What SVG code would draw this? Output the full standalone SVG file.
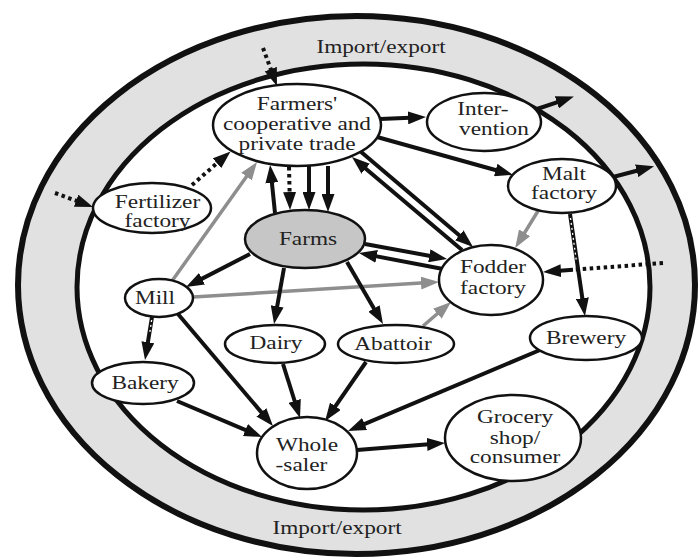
<svg xmlns="http://www.w3.org/2000/svg" width="698" height="558" viewBox="0 0 698 558">
<defs>
<style>
.node ellipse{fill:#fff;stroke:#111;stroke-width:2.5}
.node text,.lbl{font-family:"Liberation Serif","Times New Roman",serif;font-size:18px;fill:#222;text-anchor:middle}
.c{fill:none;stroke:#111;stroke-width:4;marker-end:url(#ab)}
.g{fill:none;stroke:#8e8e8e;stroke-width:3.5;marker-end:url(#ag)}
.d{fill:none;stroke:#111;stroke-width:4;stroke-dasharray:3.5 3.5;marker-end:url(#ab)}
.dn{fill:none;stroke:#111;stroke-width:4;stroke-dasharray:3.5 3.5}
.core{fill:none;stroke:#fff;stroke-width:1.3;stroke-dasharray:2 3}
</style>
<marker id="ab" viewBox="0 0 18 13" refX="8" refY="6.5" markerWidth="18" markerHeight="13" markerUnits="userSpaceOnUse" orient="auto"><path d="M0,0 L18,6.5 L0,13 z" fill="#111"/></marker>
<marker id="ag" viewBox="0 0 18 13" refX="8" refY="6.5" markerWidth="18" markerHeight="13" markerUnits="userSpaceOnUse" orient="auto"><path d="M0,0 L18,6.5 L0,13 z" fill="#8e8e8e"/></marker>
</defs>
<rect width="698" height="558" fill="#fff"/>
<g id="ring">
<ellipse cx="356.5" cy="285" rx="338.5" ry="269" fill="#e1e1e1" stroke="#111" stroke-width="6"/>
<ellipse cx="363.5" cy="287" rx="286.5" ry="223" fill="#fff" stroke="#111" stroke-width="5"/>
<text class="lbl" transform="matrix(1.294 0 0 1 381 0)" x="0" y="53">Import/export</text>
<text class="lbl" transform="matrix(1.294 0 0 1 337 0)" x="0" y="534">Import/export</text>
</g>
<g id="connectors">
<path class="d" d="M263,48 L273.5,76.6"/>
<path class="d" d="M192,185 L223,158"/>
<path class="d" d="M55,193 L83.6,203.5"/>
<path class="dn" d="M663,263 L573,269.8"/>
<path class="c" d="M573,269.8 L553,271.3"/>
<path class="g" d="M172,281 L251.2,170.1"/>
<path class="g" d="M193,297 L429,282.6"/>
<path class="g" d="M538,211 L520.4,239.6"/>
<path class="g" d="M423,326 L443.4,308.5"/>
<path class="c" d="M275,213 L271.1,174.9"/>
<path class="d" d="M289,167 L289.8,200"/>
<path class="c" d="M309,166 L309,200"/>
<path class="c" d="M328,166 L328,202"/>
<path class="c" d="M380,119 L416,117.5"/>
<path class="c" d="M537,109 L564.4,99.8"/>
<path class="c" d="M377,137 L503.4,172.2"/>
<path class="c" d="M613,177 L644.4,168.8"/>
<path class="c" d="M462,250 L359.6,163.5"/>
<path class="c" d="M360,151 L465.4,240.5"/>
<path class="c" d="M365,244 L437.2,257.2"/>
<path class="c" d="M443,269 L368.8,254.9"/>
<path class="c" d="M250,254 L194.9,282.4"/>
<path class="c" d="M284,268 L275.8,314.2"/>
<path class="c" d="M347,262 L378,315.4"/>
<path class="c" d="M570,214 L583.5,306.1"/>
<path class="core" d="M570.5,218 L576.5,262"/>
<path class="c" d="M152,317 L146.6,350.1"/>
<path class="core" d="M151.6,320 L149.6,334"/>
<path class="c" d="M178,314 L266.5,418.4"/>
<path class="c" d="M177,401 L252.8,433.1"/>
<path class="c" d="M283,364 L297,408.5"/>
<path class="c" d="M366,362 L330.8,412.8"/>
<path class="c" d="M540,350 L357.2,427.1"/>
<path class="c" d="M357,450 L435,443.8"/>
</g>
<g id="farmers" class="node">
<ellipse cx="297" cy="125" rx="84" ry="41"/>
<text transform="matrix(1.294 0 0 1 297 0)"><tspan x="0" y="110">Farmers'</tspan><tspan x="0" y="130">cooperative and</tspan><tspan x="0" y="150">private trade</tspan></text>
</g>
<g id="intervention" class="node">
<ellipse cx="484" cy="122" rx="57" ry="29"/>
<text transform="matrix(1.294 0 0 1 488 0)"><tspan x="-3.9" y="115">Inter-</tspan><tspan x="4.6" y="135">vention</tspan></text>
</g>
<g id="malt" class="node">
<ellipse cx="562" cy="186" rx="54" ry="27"/>
<text transform="matrix(1.294 0 0 1 564 0)"><tspan x="0" y="180">Malt</tspan><tspan x="0" y="199">factory</tspan></text>
</g>
<g id="fertilizer" class="node">
<ellipse cx="152" cy="208" rx="59" ry="25"/>
<text transform="matrix(1.294 0 0 1 157.5 0)"><tspan x="0" y="208">Fertilizer</tspan><tspan x="0" y="227">factory</tspan></text>
</g>
<g id="farms" class="node">
<ellipse cx="305" cy="239" rx="60" ry="29" style="fill:#c6c6c6"/>
<text transform="matrix(1.294 0 0 1 308 0)" x="0" y="245">Farms</text>
</g>
<g id="fodder" class="node">
<ellipse cx="491" cy="280" rx="52" ry="35"/>
<text transform="matrix(1.294 0 0 1 493 0)"><tspan x="0" y="273">Fodder</tspan><tspan x="0" y="294">factory</tspan></text>
</g>
<g id="mill" class="node">
<ellipse cx="159" cy="298" rx="34" ry="19"/>
<text transform="matrix(1.294 0 0 1 155 0)" x="0" y="304">Mill</text>
</g>
<g id="dairy" class="node">
<ellipse cx="275" cy="344" rx="50" ry="19"/>
<text transform="matrix(1.294 0 0 1 276 0)" x="0" y="349">Dairy</text>
</g>
<g id="abattoir" class="node">
<ellipse cx="396" cy="344" rx="58" ry="19"/>
<text transform="matrix(1.294 0 0 1 393 0)" x="0" y="350">Abattoir</text>
</g>
<g id="brewery" class="node">
<ellipse cx="586" cy="338" rx="56" ry="22"/>
<text transform="matrix(1.294 0 0 1 586 0)" x="0" y="344">Brewery</text>
</g>
<g id="bakery" class="node">
<ellipse cx="143" cy="383" rx="51" ry="21"/>
<text transform="matrix(1.294 0 0 1 145 0)" x="0" y="389">Bakery</text>
</g>
<g id="wholesaler" class="node">
<ellipse cx="307" cy="453" rx="50" ry="36"/>
<text transform="matrix(1.294 0 0 1 307 0)"><tspan x="0" y="451">Whole</tspan><tspan x="-4.3" y="471">-saler</tspan></text>
</g>
<g id="grocery" class="node">
<ellipse cx="513" cy="438" rx="68" ry="43"/>
<text transform="matrix(1.294 0 0 1 515 0)"><tspan x="0" y="423">Grocery</tspan><tspan x="0" y="444">shop/</tspan><tspan x="0" y="463">consumer</tspan></text>
</g>
</svg>
